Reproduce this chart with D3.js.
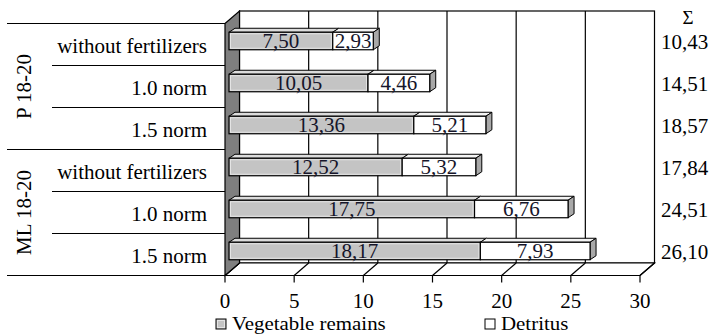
<!DOCTYPE html>
<html><head><meta charset="utf-8">
<script src="https://cdn.jsdelivr.net/npm/d3@7"></script>
<style>
html,body{margin:0;padding:0;background:#fff;}
svg{display:block;font-family:"Liberation Serif","Times New Roman",serif;}
</style></head>
<body>
<svg id="chart" width="714" height="335"></svg>
<script>
// ---- data ----
const categories = ["without fertilizers","1.0 norm","1.5 norm","without fertilizers","1.0 norm","1.5 norm"];
const groups = ["P 18-20","ML 18-20"];
const vegetable = [7.50,10.05,13.36,12.52,17.75,18.17];
const detritus = [2.93,4.46,5.21,5.32,6.76,7.93];
const xTicks = [0,5,10,15,20,25,30];
const seriesNames = ["Vegetable remains","Detritus"];
const sumSymbol = "Σ";

// ---- layout ----
const svg = d3.select("#chart");
const FONT = 21;
const depthX = 14.5, depthY = -12.5;      // wall depth
const barDX = 4, barDY = -3.5;            // bar front offset
const bdx = 6, bdy = -4;                  // bar depth
const barH = 17.5;
const x = d3.scaleLinear().domain([0,30]).range([225,640]);
const y = d3.scaleBand().domain(d3.range(categories.length)).range([23.5,275.5]).padding(0);
const frontTop = 23.5, frontBot = 275.5;
const fmt = v => v.toFixed(2).replace(".", ",");

// back wall
svg.append("rect").attr("x", x(0)+depthX).attr("y", frontTop+depthY)
  .attr("width", x(30)-x(0)).attr("height", frontBot-frontTop)
  .attr("fill","#fff").attr("stroke","#000").attr("stroke-width",1.2);
// gridlines
svg.append("g").selectAll("line").data(xTicks.slice(1,-1)).join("line")
  .attr("x1", d=>x(d)+depthX).attr("x2", d=>x(d)+depthX)
  .attr("y1", frontTop+depthY).attr("y2", frontBot+depthY)
  .attr("stroke","#000").attr("stroke-width",1.2);
// floor
svg.append("path")
  .attr("d", `M${x(0)},${frontBot} L${x(30)},${frontBot} L${x(30)+depthX},${frontBot+depthY} L${x(0)+depthX},${frontBot+depthY} Z`)
  .attr("fill","#fff").attr("stroke","#000").attr("stroke-width",1.2);
// floor ticks
const tg = svg.append("g");
tg.selectAll("line.d").data(xTicks).join("line").attr("class","d")
  .attr("x1", d=>x(d)).attr("y1", frontBot).attr("x2", d=>x(d)+depthX).attr("y2", frontBot+depthY)
  .attr("stroke","#000").attr("stroke-width",1.2);
tg.selectAll("line.t").data(xTicks).join("line").attr("class","t")
  .attr("x1", d=>x(d)).attr("y1", frontBot).attr("x2", d=>x(d)).attr("y2", frontBot+7)
  .attr("stroke","#000").attr("stroke-width",1.2);
tg.selectAll("text").data(xTicks).join("text")
  .attr("x", d=>x(d)).attr("y", 301).attr("dy","0.35em").attr("text-anchor","middle")
  .attr("font-size",FONT).attr("fill","#000").text(d=>d);

// left wall
svg.append("path")
  .attr("d", `M${x(0)},${frontTop} L${x(0)+depthX},${frontTop+depthY} L${x(0)+depthX},${frontBot+depthY} L${x(0)},${frontBot} Z`)
  .attr("fill","#7f7f7f").attr("stroke","#000").attr("stroke-width",1.2);

// category lines
const boundaries = d3.range(categories.length+1).map(i => i < categories.length ? y(i) : y(categories.length-1)+y.bandwidth());
svg.append("g").selectAll("line").data(boundaries).join("line")
  .attr("x1", (d,i)=> i%3===0 ? 7 : 52).attr("x2", x(0))
  .attr("y1", d=>d).attr("y2", d=>d)
  .attr("stroke","#000").attr("stroke-width",1.2);
// category labels
svg.append("g").selectAll("text").data(categories).join("text")
  .attr("x", 207).attr("y", (d,i)=>y(i)+y.bandwidth()/2+1).attr("dy","0.35em")
  .attr("text-anchor","end").attr("font-size",FONT).attr("fill","#000").text(d=>d);
// group labels
svg.append("g").selectAll("text").data(groups).join("text")
  .attr("transform", (d,i)=>`translate(24,${(y(i*3)+y(i*3+2)+y.bandwidth())/2}) rotate(-90)`)
  .attr("dy","0.35em").attr("text-anchor","middle").attr("font-size",FONT).attr("fill","#000").text(d=>d);

// bars
const rows = categories.map((c,i)=>({i, v:vegetable[i], d:detritus[i], t:vegetable[i]+detritus[i]}));
function segment(g, v0, v1, yt, front, top, side, withSide){
  const x0 = x(v0)+barDX, x1 = x(v1)+barDX;
  g.append("path").attr("d", `M${x0},${yt} L${x0+bdx},${yt+bdy} L${x1+bdx},${yt+bdy} L${x1},${yt} Z`)
    .attr("fill",top).attr("stroke","#000").attr("stroke-width",1);
  if(withSide){
    g.append("path").attr("d", `M${x1},${yt} L${x1+bdx},${yt+bdy} L${x1+bdx},${yt+bdy+barH} L${x1},${yt+barH} Z`)
      .attr("fill",side).attr("stroke","#000").attr("stroke-width",1);
  }
  g.append("rect").attr("x",x0).attr("y",yt).attr("width",x1-x0).attr("height",barH)
    .attr("fill",front).attr("stroke","#000").attr("stroke-width",1.2);
}
const bg = svg.append("g");
rows.forEach(r=>{
  const yc = y(r.i)+y.bandwidth()/2+barDY;
  const yt = yc - barH/2;
  const g = bg.append("g");
  segment(g, 0, r.v, yt, "#c4c4c4", "#dcdcdc", "#9a9a9a", false);
  g.append("rect").attr("x", x(0)+barDX+1.5).attr("y", yt+1.5)
    .attr("width", x(r.v)-x(0)-3).attr("height", barH-3)
    .attr("fill","none").attr("stroke","#e4e4e4").attr("stroke-width",1);
  segment(g, r.v, r.t, yt, "#ffffff", "#f4f4f4", "#a8a8a8", true);
  g.append("text").attr("x",(x(0)+x(r.v))/2+barDX).attr("y",yc).attr("dy","0.35em")
    .attr("text-anchor","middle").attr("font-size",FONT).attr("fill","#15152a").text(fmt(r.v));
  g.append("text").attr("x",(x(r.v)+x(r.t))/2+barDX).attr("y",yc).attr("dy","0.35em")
    .attr("text-anchor","middle").attr("font-size",FONT).attr("fill","#15152a").text(fmt(r.d));
});

// totals
svg.append("text").attr("x",688).attr("y",17).attr("dy","0.35em").attr("text-anchor","middle")
  .attr("font-size",19).attr("fill","#000").text(sumSymbol);
svg.append("g").selectAll("text").data(rows).join("text")
  .attr("x",661).attr("y", r=>y(r.i)+y.bandwidth()/2-3).attr("dy","0.35em")
  .attr("font-size",FONT).attr("fill","#000").text(r=>fmt(r.t));

// legend
const legX = [216, 485];
const lg = svg.append("g");
seriesNames.forEach((n,i)=>{
  lg.append("rect").attr("x",legX[i]).attr("y",319).attr("width",10).attr("height",10)
    .attr("fill", i===0 ? "#c4c4c4" : "#fff").attr("stroke","#000").attr("stroke-width",1);
  if(i===0) lg.append("rect").attr("x",legX[i]+1.5).attr("y",320.5).attr("width",7).attr("height",7)
    .attr("fill","none").attr("stroke","#e4e4e4").attr("stroke-width",1);
  lg.append("g").attr("transform",`translate(${legX[i]+16},329.5) scale(1.1,1)`)
    .append("text").attr("x",0).attr("y",0)
    .attr("font-size",19).attr("fill","#000").text(n);
});
</script>
</body></html>
